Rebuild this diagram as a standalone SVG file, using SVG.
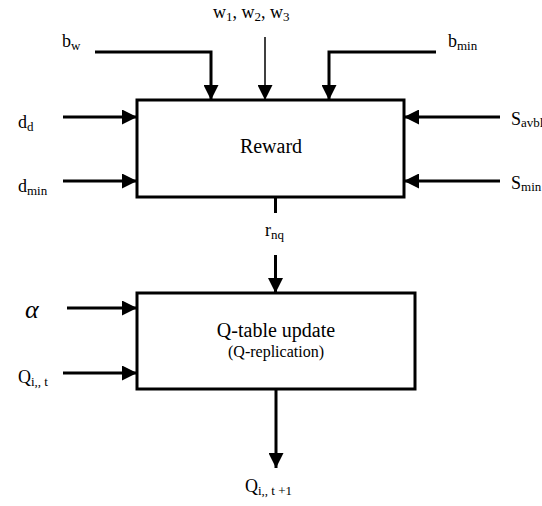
<svg xmlns="http://www.w3.org/2000/svg" width="542" height="506" viewBox="0 0 542 506" font-family="'Liberation Serif', 'Times New Roman', serif">
<style>
.box{fill:#fff;stroke:#000;stroke-width:3}
.ln{fill:none;stroke:#000;stroke-width:3}
.thin{fill:none;stroke:#000;stroke-width:1.5}
text{font-family:"Liberation Serif","Times New Roman",serif;fill:#000}
.lb{font-size:18px}
.sb{font-size:13px}
</style>
<defs>
<marker id="ah" markerUnits="userSpaceOnUse" markerWidth="15" markerHeight="15" refX="15" refY="7.5" orient="auto" viewBox="0 0 15 15">
<path d="M0,0 L15,7.5 L0,15 z" fill="#000"/>
</marker>
</defs>
<g id="connectors">
<polyline class="ln" points="95,52 211,52 211,100" marker-end="url(#ah)"/>
<line class="thin" x1="265" y1="37" x2="265" y2="100" marker-end="url(#ah)"/>
<polyline class="ln" points="436,52 329,52 329,100" marker-end="url(#ah)"/>
<line class="ln" x1="63" y1="117" x2="137" y2="117" marker-end="url(#ah)"/>
<line class="ln" x1="63" y1="181" x2="137" y2="181" marker-end="url(#ah)"/>
<line class="ln" x1="500" y1="117" x2="404" y2="117" marker-end="url(#ah)"/>
<line class="ln" x1="500" y1="181" x2="404" y2="181" marker-end="url(#ah)"/>
<line class="ln" x1="275.5" y1="197" x2="275.5" y2="213"/>
<line class="ln" x1="275.5" y1="255" x2="275.5" y2="293" marker-end="url(#ah)"/>
<line class="ln" x1="67" y1="308" x2="137" y2="308" marker-end="url(#ah)"/>
<line class="ln" x1="63" y1="373" x2="137" y2="373" marker-end="url(#ah)"/>
<line class="ln" x1="276" y1="389" x2="276" y2="468" marker-end="url(#ah)"/>
</g>
<g id="reward">
<rect class="box" x="137" y="100" width="267" height="97"/>
<text x="271" y="153" font-size="20" text-anchor="middle">Reward</text>
</g>
<g id="qtable">
<rect class="box" x="137" y="293" width="278" height="96"/>
<text x="276" y="337" font-size="20" text-anchor="middle">Q-table update</text>
<text x="276" y="357" font-size="16" text-anchor="middle">(Q-replication)</text>
</g>
<g id="labels">
<text x="213" y="18" class="lb">w<tspan class="sb" dy="3">1</tspan><tspan dy="-3">, w</tspan><tspan class="sb" dy="3">2</tspan><tspan dy="-3">, w</tspan><tspan class="sb" dy="3">3</tspan></text>
<text x="62" y="47" class="lb">b<tspan class="sb" dy="3">w</tspan></text>
<text x="448" y="47" class="lb">b<tspan class="sb" dy="3">min</tspan></text>
<text x="18" y="128" class="lb">d<tspan class="sb" dy="3">d</tspan></text>
<text x="18" y="192" class="lb">d<tspan class="sb" dy="3">min</tspan></text>
<text x="511" y="125" class="lb">S<tspan class="sb" dy="2">avbl</tspan></text>
<text x="511" y="189" class="lb">S<tspan class="sb" dy="2">min</tspan></text>
<text x="265" y="236" class="lb">r<tspan class="sb" dy="3">nq</tspan></text>
<text x="25" y="318" font-size="26" font-style="italic">α</text>
<text x="18" y="383" class="lb">Q<tspan class="sb" dy="3">i,, t</tspan></text>
<text x="245" y="492" class="lb">Q<tspan class="sb" dy="3">i,, t +1</tspan></text>
</g>
</svg>
